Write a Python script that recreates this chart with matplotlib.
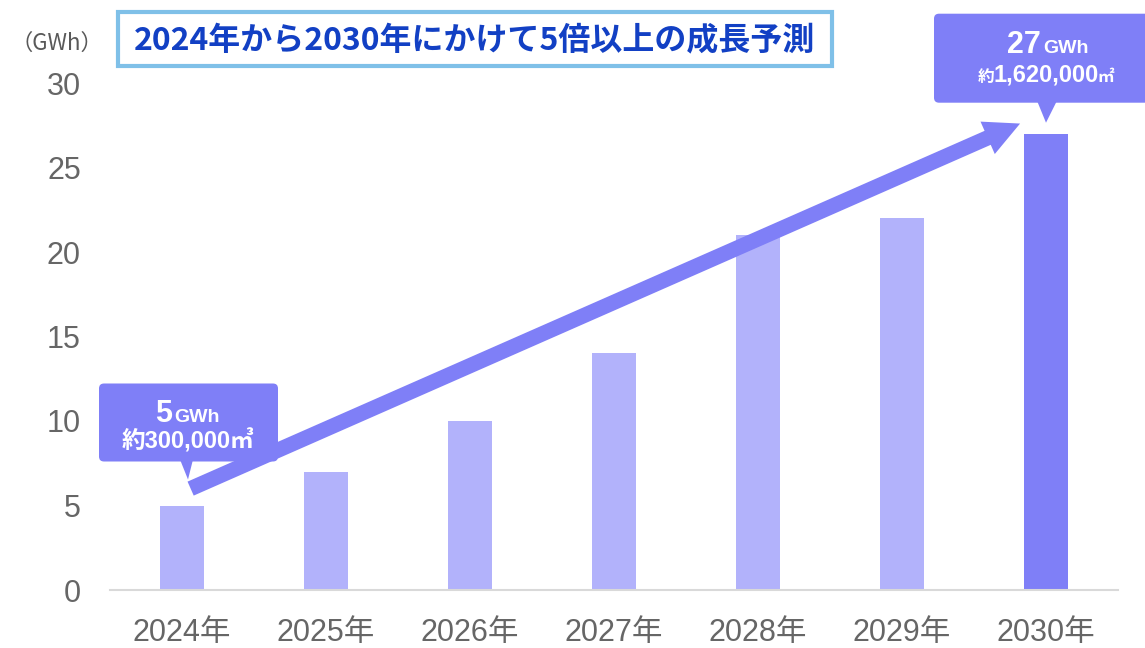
import numpy as np
import matplotlib
matplotlib.use("Agg")
import matplotlib.pyplot as plt
from matplotlib.patches import FancyBboxPatch, Polygon, Rectangle, FancyArrowPatch
from matplotlib.transforms import Affine2D, ScaledTranslation

# data
years = ["2024年", "2025年", "2026年", "2027年", "2028年", "2029年", "2030年"]
capacity = [5, 7, 10, 14, 21, 22, 27]  # GWh
yticks = [0, 5, 10, 15, 20, 25, 30]

title = "2024年から2030年にかけて5倍以上の成長予測"
unit_label = "（GWh）"

LIGHT = "#b2b2fb"
DARK = "#7f7ff7"
GRAY = "#666666"
JP = ["Noto Sans CJK JP", "DejaVu Sans"]

plt.rcParams["font.family"] = ["Liberation Sans", "Noto Sans CJK JP", "DejaVu Sans"]

fig = plt.figure(figsize=(11.45, 6.48), dpi=100)
ax = fig.add_axes([110 / 1145, 1 - 590 / 648, 1008 / 1145, 507 / 648])

x = np.arange(len(years))
colors = [LIGHT] * (len(years) - 1) + [DARK]
ax.bar(x, capacity, width=0.31, color=colors, zorder=2)

ax.set_xlim(-0.5, len(years) - 0.5)
ax.set_ylim(0, 30)
ax.set_yticks(yticks)
ax.set_xticks(x)
ax.set_xticklabels(years)
ax.tick_params(axis="both", length=0, labelsize=22, labelcolor=GRAY)
ax.tick_params(axis="x", pad=20)
ax.tick_params(axis="y", pad=21)
for s in ["top", "right", "left"]:
    ax.spines[s].set_visible(False)
ax.spines["bottom"].set_color("#d9d9d9")
ax.spines["bottom"].set_linewidth(1.5)

# growth arrow
arrow = FancyArrowPatch((0.06, capacity[0] + 1.0), (5.82, capacity[-1] + 0.6),
                        arrowstyle="simple,head_length=2.55,head_width=2.55,tail_width=1.1",
                        mutation_scale=10, color=DARK, lw=0, zorder=3,
                        shrinkA=0, shrinkB=0, clip_on=False)
ax.add_patch(arrow)


def callout(i, box, tip):
    trans = Affine2D() + ScaledTranslation(i, capacity[i], ax.transData)
    x0, x1, y0, y1 = box
    ax.add_patch(FancyBboxPatch((x0, y0), x1 - x0, y1 - y0,
                                boxstyle="round,pad=0,rounding_size=5",
                                transform=trans, fc=DARK, ec="none",
                                clip_on=False, zorder=4))
    ax.add_patch(Polygon(tip, closed=True, transform=trans, fc=DARK,
                         ec="none", clip_on=False, zorder=4))


def label(i, s, dx, dy, size, ha="center"):
    ax.annotate(s, xy=(i, capacity[i]), xytext=(dx, dy), textcoords="offset pixels",
                ha=ha, va="baseline", fontsize=size, fontweight="bold",
                color="white", zorder=5, annotation_clip=False)


# 2024 callout
callout(0, (-83, 96, 44, 122), [(-2, 46), (11, 46), (6, 26)])
label(0, str(capacity[0]), -10, 84, 22, ha="right")
label(0, "GWh", -8, 84, 14, ha="left")
label(0, "約300,000㎥", 6, 57, 17)

# 2030 callout
last = len(years) - 1
callout(last, (-112, 110, 31, 120), [(-9, 33), (11, 33), (0, 11)])
label(last, str(capacity[-1]), -5, 81, 22, ha="right")
label(last, "GWh", -3, 81, 14, ha="left")
label(last, "1,620,000", 0, 52, 17)
label(last, "約", -52, 52, 12, ha="right")
label(last, "㎡", 51, 52, 12, ha="left")

# title box
fig.add_artist(Rectangle((118 / 1145, 1 - 66 / 648), 714 / 1145, 54 / 648,
                         transform=fig.transFigure, fc="white", ec="#7fc0e8", lw=3))
fig.text(475 / 1145, 1 - 40 / 648, title, ha="center", va="center", fontsize=23,
         fontweight="bold", color="#1240c4", family=JP)
fig.text(57 / 1145, 1 - 43 / 648, unit_label, ha="center", va="center", fontsize=16,
         color="#595959", family=JP)

fig.savefig("out.png", dpi=100)
